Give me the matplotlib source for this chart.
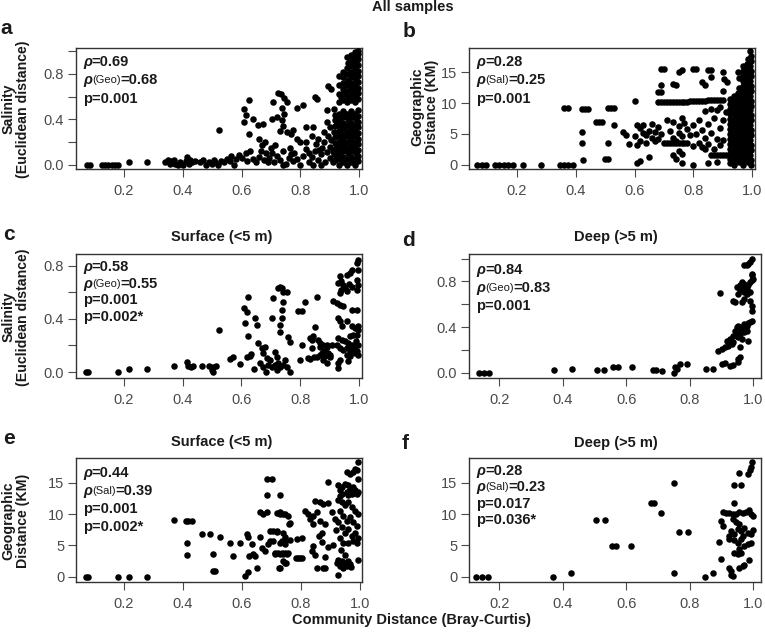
import matplotlib
matplotlib.use("Agg")
import matplotlib.pyplot as plt

plt.rcParams['font.family'] = ['Liberation Sans', 'DejaVu Sans']

# ---------------- data ----------------
# a: all samples, salinity distance vs community distance
sal_all = [
    (0.075, 0.0), (0.085, 0.0), (0.125, 0.0), (0.136, 0.0), (0.147, 0.0), (0.158, 0.0), (0.17, 0.0), (0.18, 0.0),
    (0.218, 0.02), (0.277, 0.02),
    (0.34, 0.02), (0.35, 0.04), (0.355, 0.01), (0.365, 0.03), (0.37, 0.045), (0.375, 0.01), (0.385, 0.0),
    (0.39, 0.025), (0.40, 0.0), (0.41, 0.03), (0.415, 0.065), (0.42, 0.01), (0.425, 0.04), (0.43, 0.02), (0.44, 0.035),
    (0.46, 0.02), (0.47, 0.045), (0.48, 0.0), (0.49, 0.02), (0.50, 0.01), (0.505, 0.045), (0.51, 0.02), (0.52, 0.0),
    (0.53, 0.03), (0.54, 0.02), (0.55, 0.05), (0.56, 0.035), (0.565, 0.075), (0.575, 0.0), (0.58, 0.05),
    (0.59, 0.085), (0.60, 0.06), (0.525, 0.31),
    (0.61, 0.49), (0.615, 0.44), (0.625, 0.57), (0.61, 0.38), (0.625, 0.27), (0.615, 0.10), (0.63, 0.12),
    (0.64, 0.40), (0.655, 0.35), (0.66, 0.23), (0.665, 0.12), (0.64, 0.05), (0.62, 0.03), (0.65, 0.02),
    (0.66, 0.07), (0.67, 0.17), (0.675, 0.04), (0.68, 0.20), (0.685, 0.10), (0.69, 0.02), (0.695, 0.06),
    (0.70, 0.15), (0.673, 0.36),
    (0.708, 0.55), (0.725, 0.63), (0.735, 0.62), (0.745, 0.59), (0.755, 0.55), (0.737, 0.50), (0.703, 0.40),
    (0.72, 0.42), (0.737, 0.39), (0.742, 0.34), (0.73, 0.30), (0.754, 0.29), (0.776, 0.31), (0.77, 0.27),
    (0.745, 0.45), (0.79, 0.50), (0.81, 0.53), (0.79, 0.23), (0.80, 0.20), (0.71, 0.02), (0.72, 0.08),
    (0.73, 0.04), (0.74, 0.12), (0.75, 0.01), (0.76, 0.06), (0.765, 0.15), (0.775, 0.03), (0.78, 0.10),
    (0.79, 0.05), (0.80, 0.0), (0.81, 0.08), (0.82, 0.14), (0.705, 0.10), (0.715, 0.17), (0.74, 0.0), (0.77, 0.09),
    (0.85, 0.60), (0.856, 0.58), (0.82, 0.33), (0.845, 0.33), (0.86, 0.23), (0.84, 0.25), (0.895, 0.69),
    (0.905, 0.67), (0.83, 0.02), (0.84, 0.07), (0.85, 0.12), (0.855, 0.18), (0.86, 0.04), (0.87, 0.09),
    (0.875, 0.15), (0.88, 0.20), (0.885, 0.02), (0.89, 0.11), (0.895, 0.25), (0.90, 0.06), (0.90, 0.16),
    (0.82, 0.20), (0.83, 0.10), (0.87, 0.0), (0.88, 0.29), (0.89, 0.38), (0.90, 0.33), (0.905, 0.22),
    (0.91, 0.12), (0.91, 0.02), (0.89, 0.48), (0.865, 0.13), (0.845, 0.0),
    (0.918, 0.04), (0.916, 0.09), (0.919, 0.14), (0.917, 0.19), (0.918, 0.24), (0.916, 0.29), (0.919, 0.34),
    (0.917, 0.39), (0.918, 0.44), (0.916, 0.49),
    (0.932, 0.0), (0.931, 0.05), (0.933, 0.10), (0.932, 0.15), (0.931, 0.20), (0.933, 0.25), (0.932, 0.30),
    (0.931, 0.35), (0.933, 0.40), (0.932, 0.45), (0.931, 0.55), (0.933, 0.62), (0.932, 0.70), (0.931, 0.78),
    (0.946, 0.02), (0.945, 0.07), (0.947, 0.12), (0.946, 0.17), (0.945, 0.22), (0.947, 0.27), (0.946, 0.32),
    (0.945, 0.37), (0.947, 0.42), (0.946, 0.47), (0.945, 0.57), (0.947, 0.62), (0.946, 0.67), (0.945, 0.72),
    (0.947, 0.77), (0.946, 0.82),
    (0.960, 0.0), (0.959, 0.05), (0.961, 0.10), (0.960, 0.15), (0.959, 0.20), (0.961, 0.25), (0.960, 0.30),
    (0.959, 0.35), (0.961, 0.40), (0.960, 0.45), (0.959, 0.55), (0.961, 0.60), (0.960, 0.65), (0.959, 0.70),
    (0.961, 0.75), (0.960, 0.80), (0.959, 0.85), (0.961, 0.90), (0.960, 0.95),
    (0.974, 0.02), (0.973, 0.07), (0.975, 0.12), (0.974, 0.17), (0.973, 0.22), (0.975, 0.27), (0.974, 0.32),
    (0.973, 0.37), (0.975, 0.42), (0.974, 0.47), (0.973, 0.57), (0.975, 0.62), (0.974, 0.67), (0.973, 0.72),
    (0.975, 0.77), (0.974, 0.82), (0.973, 0.87), (0.975, 0.92), (0.974, 0.97),
    (0.988, 0.0), (0.987, 0.05), (0.989, 0.10), (0.988, 0.15), (0.987, 0.20), (0.989, 0.25), (0.988, 0.30),
    (0.987, 0.35), (0.989, 0.40), (0.988, 0.45), (0.987, 0.55), (0.989, 0.60), (0.988, 0.65), (0.987, 0.70),
    (0.989, 0.75), (0.988, 0.80), (0.987, 0.85), (0.989, 0.90), (0.988, 0.95), (0.987, 0.99),
    (0.997, 0.03), (0.996, 0.08), (0.998, 0.13), (0.997, 0.18), (0.996, 0.23), (0.998, 0.28), (0.997, 0.33),
    (0.996, 0.38), (0.998, 0.43), (0.997, 0.48), (0.996, 0.58), (0.998, 0.63), (0.997, 0.68), (0.996, 0.73),
    (0.998, 0.78), (0.997, 0.83), (0.996, 0.88), (0.998, 0.93), (0.997, 0.98), (0.998, 1.0),
    (0.925, 0.07), (0.925, 0.17), (0.925, 0.27), (0.925, 0.37), (0.939, 0.12), (0.939, 0.22), (0.939, 0.32),
    (0.939, 0.42), (0.939, 0.6), (0.953, 0.05), (0.953, 0.15), (0.953, 0.25), (0.953, 0.35), (0.953, 0.45),
    (0.953, 0.62), (0.953, 0.72), (0.967, 0.1), (0.967, 0.2), (0.967, 0.3), (0.967, 0.4), (0.967, 0.6),
    (0.967, 0.7), (0.967, 0.8), (0.967, 0.9), (0.981, 0.05), (0.981, 0.15), (0.981, 0.25), (0.981, 0.35),
    (0.981, 0.45), (0.981, 0.6), (0.981, 0.7), (0.981, 0.8), (0.981, 0.9),
]

# b: all samples, geographic distance (km) vs community distance
geo_all = [
    (0.065, 0.0), (0.08, 0.0), (0.095, 0.0), (0.125, 0.0), (0.14, 0.0), (0.155, 0.0), (0.17, 0.0), (0.185, 0.0),
    (0.222, 0.0), (0.28, 0.0), (0.345, 0.0), (0.36, 0.0), (0.375, 0.0), (0.39, 0.0),
    (0.36, 9.2), (0.375, 9.2), (0.42, 9.0), (0.43, 9.0), (0.44, 9.0), (0.42, 5.3), (0.42, 3.6), (0.425, 0.8),
    (0.47, 6.9), (0.48, 6.9), (0.49, 6.9), (0.51, 9.2), (0.52, 9.2), (0.53, 9.2), (0.51, 3.6), (0.50, 0.9),
    (0.51, 0.9), (0.53, 6.5), (0.56, 5.3), (0.57, 4.8), (0.58, 3.4), (0.60, 10.3), (0.61, 0.2), (0.62, 0.6),
    (0.65, 1.3),
    (0.61, 6.5), (0.62, 5.9), (0.63, 5.2), (0.63, 6.5), (0.64, 4.8), (0.64, 3.6), (0.65, 5.5), (0.66, 4.4),
    (0.66, 6.6), (0.67, 3.9), (0.67, 5.3), (0.68, 4.2), (0.68, 6.1), (0.69, 5.0), (0.62, 3.9), (0.61, 3.2),
    (0.60, 4.7),
    (0.69, 15.6), (0.70, 15.6), (0.68, 11.8), (0.69, 11.8), (0.69, 13.0),
    (0.68, 10.2), (0.69, 10.2), (0.70, 10.2), (0.71, 10.2), (0.72, 10.2), (0.73, 10.2), (0.74, 10.2),
    (0.75, 10.2), (0.76, 10.2), (0.77, 10.2), (0.78, 10.2), (0.79, 10.3), (0.80, 10.3), (0.81, 10.3),
    (0.82, 10.3), (0.83, 10.4), (0.84, 10.4), (0.85, 10.5), (0.86, 10.5), (0.87, 10.5), (0.88, 10.5),
    (0.89, 10.5), (0.90, 10.5),
    (0.75, 15.0), (0.76, 15.3), (0.74, 13.0), (0.80, 15.6), (0.81, 15.6), (0.85, 15.4), (0.86, 15.4),
    (0.84, 13.0), (0.86, 14.2), (0.90, 15.0), (0.905, 13.9), (0.83, 13.4), (0.915, 13.4), (0.90, 12.0),
    (0.73, 13.1),
    (0.71, 7.3), (0.72, 5.5), (0.73, 4.3), (0.73, 6.9), (0.74, 3.8), (0.75, 5.1), (0.75, 6.2), (0.76, 7.6),
    (0.76, 4.6), (0.77, 3.6), (0.77, 6.8), (0.78, 5.8), (0.78, 3.6), (0.79, 4.8), (0.80, 3.0), (0.80, 6.4),
    (0.81, 5.0), (0.82, 3.6), (0.82, 7.2), (0.83, 5.6), (0.83, 2.9), (0.84, 4.4), (0.84, 8.7), (0.85, 6.6),
    (0.85, 3.4), (0.86, 9.0), (0.86, 5.2), (0.87, 7.5), (0.87, 2.6), (0.88, 4.2), (0.88, 8.8), (0.89, 6.0),
    (0.89, 9.3), (0.90, 7.2), (0.91, 8.5), (0.90, 4.0),
    (0.70, 3.6), (0.71, 3.6), (0.72, 3.6), (0.73, 3.5), (0.74, 3.6), (0.75, 3.5), (0.76, 3.6),
    (0.73, 1.5), (0.74, 0.9), (0.75, 2.3), (0.76, 1.8), (0.76, 0.2), (0.80, 0.0), (0.85, 0.2), (0.86, 1.5),
    (0.87, 1.6), (0.88, 1.6), (0.89, 1.6), (0.90, 1.6), (0.91, 1.6), (0.88, 0.5), (0.89, 3.2), (0.84, 2.5),
    (0.925, 0.3), (0.926, 1.0), (0.924, 1.8), (0.925, 2.6), (0.926, 3.4), (0.924, 4.2), (0.925, 5.0),
    (0.926, 5.8), (0.924, 6.6), (0.925, 7.4), (0.926, 8.2), (0.924, 9.0), (0.925, 9.8), (0.926, 10.6),
    (0.940, 0.0), (0.941, 0.8), (0.939, 1.6), (0.940, 2.4), (0.941, 3.2), (0.939, 4.0), (0.940, 4.8),
    (0.941, 5.6), (0.939, 6.4), (0.940, 7.2), (0.941, 8.0), (0.939, 8.8), (0.940, 9.6), (0.941, 10.4),
    (0.939, 11.2),
    (0.955, 0.4), (0.956, 1.2), (0.954, 2.0), (0.955, 2.8), (0.956, 3.6), (0.954, 4.4), (0.955, 5.2),
    (0.956, 6.0), (0.954, 6.8), (0.955, 7.6), (0.956, 8.4), (0.954, 9.2), (0.955, 10.0), (0.956, 10.8),
    (0.954, 11.6), (0.955, 12.4), (0.956, 14.0), (0.954, 15.0),
    (0.970, 0.0), (0.971, 0.8), (0.969, 1.6), (0.970, 2.4), (0.971, 3.2), (0.969, 4.0), (0.970, 4.8),
    (0.971, 5.6), (0.969, 6.4), (0.970, 7.2), (0.971, 8.0), (0.969, 8.8), (0.970, 9.6), (0.971, 10.4),
    (0.969, 11.2), (0.970, 12.0), (0.971, 12.8), (0.969, 13.6), (0.970, 14.4), (0.971, 15.2), (0.969, 16.0),
    (0.985, 0.4), (0.986, 1.2), (0.984, 2.0), (0.985, 2.8), (0.986, 3.6), (0.984, 4.4), (0.985, 5.2),
    (0.986, 6.0), (0.984, 6.8), (0.985, 7.6), (0.986, 8.4), (0.984, 9.2), (0.985, 10.0), (0.986, 10.8),
    (0.984, 11.6), (0.985, 12.4), (0.986, 13.2), (0.984, 14.0), (0.985, 14.8), (0.986, 15.6), (0.984, 16.4),
    (0.985, 17.2),
    (0.995, 0.0), (0.996, 0.8), (0.994, 1.6), (0.995, 2.4), (0.996, 3.2), (0.994, 4.0), (0.995, 4.8),
    (0.996, 5.6), (0.994, 6.4), (0.995, 7.2), (0.996, 8.0), (0.994, 8.8), (0.995, 9.6), (0.996, 10.4),
    (0.994, 11.2), (0.995, 12.0), (0.996, 12.8), (0.994, 13.6), (0.995, 14.4), (0.996, 15.2), (0.994, 16.0),
    (0.995, 16.8), (0.996, 17.6), (0.994, 18.4),
    (0.932, 0.6), (0.932, 2.2), (0.932, 3.8), (0.932, 5.4), (0.932, 7.0), (0.932, 8.6), (0.932, 10.2),
    (0.947, 1.2), (0.947, 2.8), (0.947, 4.4), (0.947, 6.0), (0.947, 7.6), (0.947, 9.2), (0.947, 10.8),
    (0.962, 0.6), (0.962, 2.2), (0.962, 3.8), (0.962, 5.4), (0.962, 7.0), (0.962, 8.6), (0.962, 10.2),
    (0.962, 11.8), (0.977, 1.2), (0.977, 2.8), (0.977, 4.4), (0.977, 6.0), (0.977, 7.6), (0.977, 9.2),
    (0.977, 10.8), (0.977, 12.4), (0.977, 14.0), (0.977, 15.6),
]

# c: surface, salinity distance
sal_surf = [
    (0.072, 0.0), (0.08, 0.0), (0.182, 0.0), (0.219, 0.02), (0.278, 0.02),
    (0.371, 0.048), (0.414, 0.078), (0.42, 0.048), (0.428, 0.04), (0.437, 0.045), (0.465, 0.048), (0.49, 0.048),
    (0.505, 0.04), (0.514, 0.048), (0.50, 0.015), (0.505, 0.0), (0.524, 0.316),
    (0.562, 0.095), (0.573, 0.11), (0.596, 0.06),
    (0.61, 0.48), (0.62, 0.45), (0.624, 0.567), (0.613, 0.37), (0.624, 0.27), (0.618, 0.115), (0.63, 0.12),
    (0.647, 0.404), (0.652, 0.354), (0.634, 0.135),
    (0.643, 0.02), (0.658, 0.216), (0.664, 0.065), (0.669, 0.178), (0.675, 0.14), (0.68, 0.19), (0.686, 0.103),
    (0.675, 0.04), (0.684, 0.0), (0.692, 0.053), (0.698, 0.09), (0.703, 0.04), (0.715, 0.053), (0.72, 0.015),
    (0.726, 0.065), (0.732, 0.04), (0.743, 0.053), (0.754, 0.04), (0.766, 0.0),
    (0.703, 0.404), (0.709, 0.554), (0.715, 0.153), (0.72, 0.115), (0.726, 0.63), (0.732, 0.637), (0.737, 0.63),
    (0.743, 0.604), (0.754, 0.604), (0.737, 0.404), (0.732, 0.354), (0.743, 0.53), (0.737, 0.466),
    (0.732, 0.303), (0.76, 0.266), (0.766, 0.228), (0.748, 0.09),
    (0.794, 0.46), (0.805, 0.46), (0.805, 0.203), (0.80, 0.09), (0.817, 0.53), (0.828, 0.103), (0.834, 0.253),
    (0.84, 0.24), (0.851, 0.341), (0.857, 0.567), (0.862, 0.24), (0.857, 0.115), (0.868, 0.19), (0.873, 0.14),
    (0.879, 0.09), (0.885, 0.153), (0.896, 0.14), (0.902, 0.115), (0.89, 0.19), (0.907, 0.203), (0.845, 0.268),
    (0.839, 0.18), (0.868, 0.218), (0.879, 0.206), (0.89, 0.206), (0.868, 0.13), (0.885, 0.118), (0.902, 0.13),
    (0.89, 0.068), (0.834, 0.10), (0.846, 0.11), (0.88, 0.16),
    (0.998, 0.845), (0.992, 0.82), (0.998, 0.77), (0.975, 0.77), (0.97, 0.745), (0.958, 0.732), (0.936, 0.72),
    (0.94, 0.682), (0.93, 0.67), (0.947, 0.657), (0.953, 0.632), (0.94, 0.62), (0.958, 0.607), (0.936, 0.594),
    (0.992, 0.695), (0.995, 0.657), (0.992, 0.62), (0.975, 0.64), (0.965, 0.66),
    (0.913, 0.532), (0.924, 0.519), (0.936, 0.507), (0.947, 0.494), (0.93, 0.406), (0.936, 0.381),
    (0.941, 0.344), (0.958, 0.381), (0.975, 0.469), (0.992, 0.469), (0.975, 0.344), (0.987, 0.331),
    (0.998, 0.344), (0.998, 0.318), (0.981, 0.281), (0.992, 0.276), (0.97, 0.268),
    (0.93, 0.256), (0.941, 0.243), (0.953, 0.231), (0.964, 0.218), (0.975, 0.206), (0.987, 0.193),
    (0.998, 0.206), (0.924, 0.206), (0.936, 0.18), (0.947, 0.168), (0.958, 0.18), (0.97, 0.155), (0.981, 0.168),
    (0.992, 0.155), (0.998, 0.13), (0.958, 0.13), (0.97, 0.118), (0.93, 0.068), (0.936, 0.093), (0.93, 0.03),
    (0.964, 0.08), (0.985, 0.14), (0.965, 0.2), (0.99, 0.23),
]

# d: deep, salinity distance
sal_deep = [
    (0.135, 0.0), (0.15, 0.0), (0.168, 0.0), (0.372, 0.023), (0.428, 0.038), (0.507, 0.023), (0.53, 0.023),
    (0.559, 0.047), (0.572, 0.047), (0.617, 0.047), (0.683, 0.023), (0.693, 0.023), (0.711, 0.018),
    (0.75, 0.003), (0.753, 0.053), (0.759, 0.032), (0.769, 0.076), (0.79, 0.076), (0.851, 0.032), (0.874, 0.032),
    (0.9, 0.076), (0.911, 0.082), (0.927, 0.062), (0.937, 0.07), (0.953, 0.12), (0.958, 0.14), (0.953, 0.091),
    (0.89, 0.193), (0.9, 0.208), (0.911, 0.223), (0.921, 0.237), (0.932, 0.252), (0.937, 0.267), (0.916, 0.28),
    (0.927, 0.3), (0.937, 0.32), (0.958, 0.223), (0.963, 0.296),
    (0.942, 0.369), (0.948, 0.398), (0.953, 0.413), (0.958, 0.384), (0.963, 0.404), (0.969, 0.428),
    (0.974, 0.398), (0.979, 0.413), (0.984, 0.434), (0.969, 0.355), (0.958, 0.34), (0.948, 0.325),
    (0.99, 0.443), (0.995, 0.452), (0.979, 0.369), (0.953, 0.31), (0.984, 0.28),
    (0.995, 0.589), (0.995, 0.545), (0.99, 0.633), (0.895, 0.697), (0.937, 0.633), (0.942, 0.618),
    (0.969, 0.648), (0.963, 0.618),
    (0.948, 0.75), (0.958, 0.765), (0.963, 0.794), (0.969, 0.779), (0.974, 0.75), (0.979, 0.735),
    (0.984, 0.765), (0.99, 0.794), (0.995, 0.809), (1.0, 0.823), (0.958, 0.721), (0.969, 0.706),
    (0.979, 0.692), (0.99, 0.706), (0.953, 0.692), (0.995, 0.853),
    (0.969, 0.94), (0.979, 0.94), (0.984, 0.955), (0.99, 0.97), (0.996, 0.995), (0.995, 0.867),
]

# e: surface, geographic distance (km)
geo_surf = [
    (0.072, 0.0), (0.08, 0.0), (0.182, 0.0), (0.219, 0.0), (0.278, 0.0),
    (0.37, 9.14), (0.411, 8.98), (0.419, 8.98), (0.43, 8.98), (0.415, 5.32), (0.415, 3.5),
    (0.464, 6.83), (0.492, 6.83), (0.504, 3.6), (0.504, 0.9), (0.51, 0.9), (0.526, 6.3),
    (0.56, 5.32), (0.569, 3.33), (0.594, 5.32),
    (0.616, 6.83), (0.622, 6.3), (0.61, 0.1), (0.622, 0.75), (0.625, 3.33), (0.639, 3.6), (0.633, 5.2),
    (0.645, 3.33), (0.65, 1.45), (0.662, 6.3), (0.667, 4.57),
    (0.662, 10.3), (0.673, 10.1), (0.685, 10.3), (0.684, 15.7), (0.701, 15.7), (0.684, 13.0), (0.729, 13.0),
    (0.679, 4.14), (0.69, 5.2), (0.695, 7.37), (0.718, 7.26), (0.707, 5.75), (0.712, 3.6), (0.727, 1.45),
    (0.729, 10.3), (0.741, 10.0), (0.758, 8.44), (0.746, 6.3), (0.746, 5.2), (0.729, 3.6), (0.741, 3.6),
    (0.752, 3.6), (0.746, 2.26), (0.735, 5.75),
    (0.786, 6.0), (0.791, 3.06), (0.803, 3.06),
    (0.994, 18.3), (0.983, 17.3), (0.989, 17.0), (0.977, 16.7), (0.966, 16.5), (0.955, 16.7), (0.893, 15.1),
    (0.927, 14.6), (0.932, 13.8), (0.938, 13.2), (0.949, 14.8), (0.96, 14.6), (0.966, 14.0), (0.977, 14.3),
    (0.983, 13.8), (0.989, 13.2), (0.972, 13.2), (0.955, 13.5), (0.938, 14.3), (0.932, 12.96), (0.994, 13.5),
    (0.994, 15.7), (0.96, 13.0),
    (0.848, 12.15), (0.865, 11.9), (0.876, 11.6), (0.893, 11.8),
    (0.814, 10.5), (0.825, 10.0), (0.831, 9.2), (0.842, 9.7), (0.853, 10.3), (0.865, 8.9), (0.882, 8.4),
    (0.904, 10.3), (0.84, 8.5), (0.87, 7.0),
    (0.927, 12.2), (0.938, 11.9), (0.949, 11.4), (0.96, 11.9), (0.972, 11.1), (0.983, 10.5), (0.994, 10.0),
    (0.932, 10.5), (0.943, 9.7), (0.955, 8.9), (0.966, 9.5), (0.977, 8.7), (0.989, 8.1), (0.927, 8.7),
    (0.938, 7.9), (0.949, 7.0), (0.96, 7.6), (0.972, 6.5), (0.983, 7.0), (0.994, 6.2), (0.932, 6.2),
    (0.943, 5.4), (0.96, 5.4), (0.977, 5.7), (0.989, 5.4), (0.92, 7.5), (0.915, 9.2),
    (0.842, 4.9), (0.836, 4.1), (0.848, 3.55), (0.802, 6.24), (0.853, 1.4), (0.876, 1.4), (0.882, 1.4),
    (0.86, 6.5), (0.87, 5.5), (0.89, 4.7), (0.88, 3.2), (0.91, 5.0),
    (0.927, 2.75), (0.938, 2.5), (0.949, 2.2), (0.96, 2.5), (0.932, 1.7), (0.943, 1.4), (0.955, 1.7),
    (0.966, 2.0), (0.921, 2.2), (0.994, 2.75), (0.927, 0.33), (0.97, 1.5), (0.95, 3.5), (0.935, 4.2),
    (0.718, 10.27), (0.729, 10.0), (0.746, 10.0), (0.757, 9.74), (0.763, 8.66),
    (0.706, 7.3), (0.718, 7.1), (0.74, 7.0), (0.695, 5.7), (0.729, 5.4), (0.746, 5.7), (0.763, 5.9),
    (0.712, 3.8), (0.723, 3.8), (0.735, 3.8), (0.746, 3.8), (0.757, 3.8), (0.74, 2.5), (0.75, 2.2),
    (0.729, 1.4), (0.785, 3.0), (0.797, 3.0),
]

# f: deep, geographic distance (km)
geo_deep = [
    (0.125, 0.0), (0.145, 0.0), (0.165, 0.0), (0.37, 0.0), (0.426, 0.54),
    (0.504, 9.14), (0.531, 9.14), (0.555, 4.84), (0.567, 4.84), (0.615, 4.84),
    (0.678, 11.8), (0.688, 11.8), (0.709, 10.2), (0.751, 15.05), (0.751, 0.54), (0.767, 7.1), (0.793, 7.1),
    (0.849, 0.0), (0.872, 0.6),
    (0.996, 18.3), (0.993, 17.5), (0.988, 17.0), (0.982, 16.5), (0.956, 16.6), (0.94, 14.6), (0.961, 14.6),
    (0.94, 11.8),
    (0.903, 10.3), (0.914, 10.2), (0.924, 10.2), (0.935, 10.0), (0.945, 10.0), (0.956, 10.3), (0.966, 10.2),
    (0.977, 10.4), (0.987, 10.6), (0.993, 10.0), (0.998, 9.7),
    (0.898, 8.9), (0.904, 8.1), (0.935, 9.2), (0.945, 8.7), (0.956, 8.4), (0.951, 7.6), (0.961, 7.3),
    (0.972, 7.8), (0.982, 7.0), (0.993, 6.8), (0.94, 6.8), (0.924, 6.5), (0.93, 7.3), (0.998, 7.5),
    (0.893, 5.54), (0.924, 5.97), (0.94, 5.9), (0.951, 5.4), (0.961, 6.0), (0.972, 4.9), (0.982, 5.2),
    (0.993, 5.4), (0.956, 4.4), (0.966, 6.5),
    (0.898, 2.85), (0.94, 3.8), (0.951, 3.7), (0.961, 3.8), (0.987, 2.75),
    (0.956, 1.4), (0.966, 1.67), (0.972, 1.8), (0.924, 1.4), (0.93, 0.86), (0.93, 0.33), (0.935, 0.06),
]

# statistics printed inside each panel: (text, style) pieces per line
stats_a = [[("ρ", "it"), ("=0.69", "b")], [("ρ", "it"), ("(Geo)", "sm"), ("=0.68", "b")], [("p=0.001", "b")]]
stats_b = [[("ρ", "it"), ("=0.28", "b")], [("ρ", "it"), ("(Sal)", "sm"), ("=0.25", "b")], [("p=0.001", "b")]]
stats_c = [[("ρ", "it"), ("=0.58", "b")], [("ρ", "it"), ("(Geo)", "sm"), ("=0.55", "b")], [("p=0.001", "b")],
           [("p=0.002*", "b")]]
stats_d = [[("ρ", "it"), ("=0.84", "b")], [("ρ", "it"), ("(Geo)", "sm"), ("=0.83", "b")], [("p=0.001", "b")]]
stats_e = [[("ρ", "it"), ("=0.44", "b")], [("ρ", "it"), ("(Sal)", "sm"), ("=0.39", "b")], [("p=0.001", "b")],
           [("p=0.002*", "b")]]
stats_f = [[("ρ", "it"), ("=0.28", "b")], [("ρ", "it"), ("(Sal)", "sm"), ("=0.23", "b")], [("p=0.017", "b")],
           [("p=0.036*", "b")]]

x_ticks = [0.2, 0.4, 0.6, 0.8, 1.0]
x_labels = ["0.2", "0.4", "0.6", "0.8", "1.0"]
sal_ticks = [0.0, 0.2, 0.4, 0.6, 0.8, 1.0]
sal_labels = ["0.0", "", "0.4", "", "0.8", ""]
geo_ticks = [0, 5, 10, 15]
geo_labels = ["0", "5", "10", "15"]

# ---------------- drawing ----------------
W, H = 765, 632
GREY = "#4a4a4a"
TXT = "#1a1a1a"
STYLE = {
    "it": dict(fontsize=10.5, fontweight="bold", fontstyle="italic"),
    "b": dict(fontsize=10.5, fontweight="bold"),
    "sm": dict(fontsize=8),
}

fig = plt.figure(figsize=(W / 100, H / 100), dpi=100)


def px_box(l, t, r, b):
    return [l / W, 1 - b / H, (r - l) / W, (b - t) / H]


def panel(box, pts, xlim, ylim, yticks, ylabels, stats, top_off, step):
    ax = fig.add_axes(px_box(*box))
    xs = [p[0] for p in pts]
    ys = [p[1] for p in pts]
    ax.scatter(xs, ys, s=22, c="black", linewidths=0, zorder=3)
    ax.set_xlim(xlim)
    ax.set_ylim(ylim)
    ax.set_xticks(x_ticks)
    ax.set_xticklabels(x_labels)
    ax.set_yticks(yticks)
    ax.set_yticklabels(ylabels)
    ax.tick_params(direction="out", length=5.5, width=0.8, color=GREY, labelcolor=GREY, labelsize=10.5)
    ax.tick_params(axis="x", pad=5)
    ax.tick_params(axis="y", pad=3)
    for sp in ax.spines.values():
        sp.set_color("#333333")
        sp.set_linewidth(1.0)
    h = box[3] - box[1]
    w = box[2] - box[0]
    for i, line in enumerate(stats):
        yc = 1 - (top_off + i * step) / h
        prev = None
        for txt, kind in line:
            if prev is None:
                prev = ax.text(7 / w, yc, txt, transform=ax.transAxes, ha="left", va="center",
                               color=TXT, zorder=5, **STYLE[kind])
            else:
                prev = ax.annotate(txt, xy=(1, yc), xycoords=(prev, "axes fraction"), ha="left",
                                   va="center", color=TXT, zorder=5, **STYLE[kind])
    return ax


panel((76, 48, 362, 169), sal_all, (0.0366, 1.0102), (-0.038, 1.029), sal_ticks, sal_labels, stats_a, 13.7, 18.7)
panel((469, 48, 755, 169), geo_all, (0.0366, 1.0102), (-0.70, 18.94), geo_ticks, geo_labels, stats_b, 13.7, 18.7)
panel((76, 254, 362, 378), sal_surf, (0.0378, 1.0102), (-0.045, 0.888), sal_ticks[:-1], sal_labels[:-1],
      stats_c, 13.0, 16.7)
panel((469, 254, 761, 378), sal_deep, (0.104, 1.024), (-0.045, 1.04), sal_ticks, sal_labels, stats_d, 16.4, 18.0)
panel((76, 458, 362, 582), geo_surf, (0.0385, 1.0068), (-0.85, 19.0), geo_ticks, geo_labels, stats_e, 15.0, 18.0)
panel((469, 458, 761, 582), geo_deep, (0.104, 1.024), (-0.85, 19.0), geo_ticks, geo_labels, stats_f, 13.0, 16.3)


def ftext(x, y, s, **kw):
    fig.text(x / W, 1 - y / H, s, color=TXT, fontweight="bold", **kw)


# panel letters
for letter, x, y in [("a", 0, 34), ("b", 403, 37), ("c", 3, 240), ("d", 402, 246), ("e", 3, 444), ("f", 402, 449)]:
    ftext(x, y, letter, fontsize=15, ha="left", va="baseline")

# headings
ftext(413, 7, "All samples", fontsize=10.5, ha="center", va="center")
ftext(222, 237, "Surface (<5 m)", fontsize=10.5, ha="center", va="center")
ftext(616, 237, "Deep (>5 m)", fontsize=10.5, ha="center", va="center")
ftext(222, 442, "Surface (<5 m)", fontsize=10.5, ha="center", va="center")
ftext(616, 443, "Deep (>5 m)", fontsize=10.5, ha="center", va="center")
ftext(412, 620, "Community Distance (Bray-Curtis)", fontsize=10.5, ha="center", va="center")

# y axis labels
lab_kw = dict(fontsize=10.2, rotation=90, ha="center", va="center", multialignment="center", linespacing=1.05)
ftext(16, 109, "Salinity\n(Euclidean distance)", **lab_kw)
ftext(425, 107, "Geographic\nDistance (KM)", **lab_kw)
ftext(16, 317, "Salinity\n(Euclidean distance)", **lab_kw)
ftext(16, 521, "Geographic\nDistance (KM)", **lab_kw)

fig.savefig("out.png", dpi=100)
